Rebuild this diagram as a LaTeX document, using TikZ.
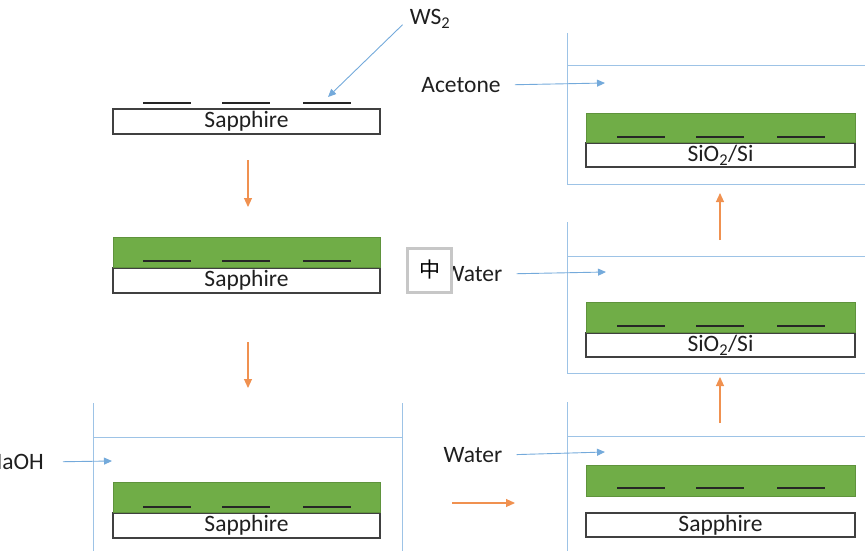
\documentclass[tikz,border=0pt]{standalone}
\usepackage{fontspec}
\setmainfont{Carlito}
\newfontfamily\cjk{Noto Sans CJK SC}
\usetikzlibrary{positioning,arrows.meta}

\definecolor{filmgreen}{HTML}{70AD47}
\definecolor{beakerblue}{HTML}{9DC3E6}
\definecolor{feedblue}{HTML}{5B9BD5}
\definecolor{steporange}{HTML}{ED7D31}

\tikzset{
  lbl/.style={font=\fontsize{23.5}{26}\selectfont, text=black!88, inner sep=0pt},
  substrate/.style={lbl, draw=black!75, line width=1.3pt, fill=white,
    minimum width=267pt, minimum height=25pt},
  film/.style={draw=filmgreen!85!black, line width=0.6pt, fill=filmgreen,
    minimum width=267pt, minimum height=30pt, inner sep=0pt},
  flake/.style={line width=1.6pt, black!85},
  beaker/.style={beakerblue, line width=1pt},
  feed/.style={-{Triangle[length=8pt,width=7pt]}, feedblue!85, line width=0.9pt},
  flow/.style={-{Triangle[length=9pt,width=8pt]}, steporange!85, line width=1.1pt},
}

\begin{document}
\begin{tikzpicture}[x=1pt,y=-1pt]
\clip (0,0) rectangle (865,551);

% left column: sapphire growth substrate
\node[substrate] (sap1) at (246.5,121.5) {Sapphire};
\node[substrate] (sap2) at (246.5,280.5) {Sapphire};
\node[film, above=0pt of sap2] (film2) {};
\node[substrate] (sap3) at (246.5,525.5) {Sapphire};
\node[film, above=0pt of sap3] (film3) {};

% beakers
\draw[beaker] (93,403) -- (93,560) (402,403) -- (402,560) (93,437) -- (402,437);
\draw[beaker] (567,402) -- (567,560) (567,436) -- (870,436);
\draw[beaker] (567,222) -- (567,373) -- (870,373) (567,256) -- (870,256);
\draw[beaker] (567,33) -- (567,184) -- (870,184) (567,66) -- (870,66);

% right column
\node[substrate, minimum width=269pt, minimum height=24pt] (sio1) at (720.5,155) {SiO\textsubscript{2}/Si};
\node[film, minimum width=269pt, minimum height=29pt, above=0pt of sio1] (film4) {};
\node[substrate, minimum width=269pt, minimum height=24pt] (sio2) at (720.5,345) {SiO\textsubscript{2}/Si};
\node[film, minimum width=269pt, minimum height=30pt, above=0pt of sio2] (film5) {};
\node[substrate, minimum width=269pt, minimum height=24pt] (sap4) at (720.5,525) {Sapphire};
\node[film, minimum width=269pt, minimum height=31pt] (film6) at (720.5,480.5) {};

% WS2 flakes
\foreach \y in {103,261,507}
  \foreach \a in {143,222,303}
    \draw[flake] (\a,\y) -- ++(48,0);
\foreach \y in {137,326,488}
  \foreach \a in {617,696,777}
    \draw[flake] (\a,\y) -- ++(48,0);

% labels and pointers
\node[lbl] (ws2) at (430,19) {WS\textsubscript{2}};
\coordinate (ws2tip) at (328,97);
\draw[feed] ([xshift=-7pt,yshift=4pt]ws2.south west) -- (ws2tip);

\node[lbl, anchor=east] (naoh) at (44,462) {NaOH};
\coordinate (naohtip) at (112,461);
\draw[feed, shorten <=19pt] (naoh.east) -- (naohtip);

\node[lbl] (acetone) at (461,85) {Acetone};
\coordinate (acetip) at (605,83);
\draw[feed, shorten <=14pt] (acetone.east) -- (acetip);

\node[lbl] (water1) at (473,274) {Water};
\coordinate (w1tip) at (606,272);
\draw[feed, shorten <=14pt] (water1.east) -- (w1tip);

\node[lbl] (water2) at (473,455) {Water};
\coordinate (w2tip) at (605,452);
\draw[feed, shorten <=14pt] (water2.east) -- (w2tip);

\node[draw=black!22, line width=3pt, fill=white, minimum size=44pt, inner sep=0pt,
  font=\cjk\fontsize{21}{21}\selectfont] (ime) at (429.5,270) {中};

% process steps
\coordinate (s1a) at (248,160); \coordinate (s1b) at (248,207);
\coordinate (s2a) at (248,342); \coordinate (s2b) at (248,388);
\coordinate (s3a) at (452,503); \coordinate (s3b) at (515,503);
\coordinate (s4a) at (720,423); \coordinate (s4b) at (720,377);
\coordinate (s5a) at (720,240); \coordinate (s5b) at (720,193);
\foreach \s in {1,...,5}
  \draw[flow] (s\s a) -- (s\s b);
\end{tikzpicture}
\end{document}
